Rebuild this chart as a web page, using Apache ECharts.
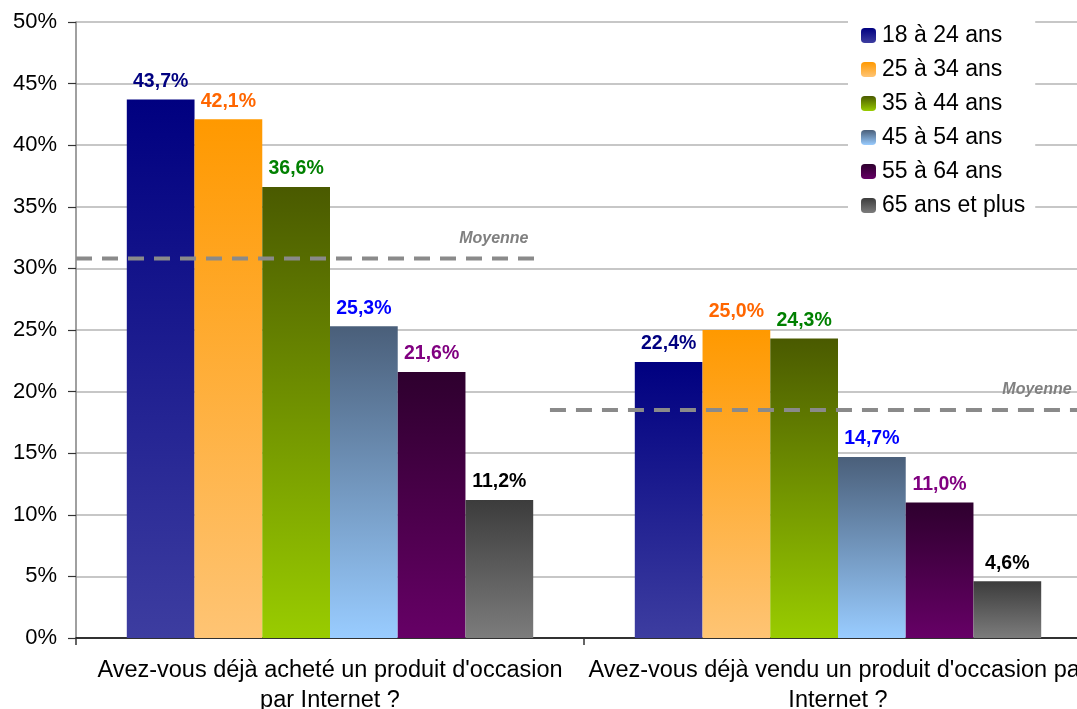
<!DOCTYPE html>
<html>
<head>
<meta charset="utf-8">
<script src="https://cdn.jsdelivr.net/npm/echarts@6/dist/echarts.min.js"></script>
<style>
  html, body { margin: 0; padding: 0; background: #fff; }
  #chart { width: 1077px; height: 709px; }
</style>
</head>
<body>
<div id="chart"></div>
<script>
// Questions (x categories)
var categories = [
  "Avez-vous déjà acheté un produit d'occasion\npar Internet ?",
  "Avez-vous déjà vendu un produit d'occasion par\nInternet ?"
];

// Age groups
var ageGroups = ['18 à 24 ans', '25 à 34 ans', '35 à 44 ans', '45 à 54 ans', '55 à 64 ans', '65 ans et plus'];

// Share of respondents (%) per age group, one value per question
var v18_24 = [43.7, 22.4];
var v25_34 = [42.1, 25.0];
var v35_44 = [36.6, 24.3];
var v45_54 = [25.3, 14.7];
var v55_64 = [21.6, 11.0];
var v65plus = [11.2, 4.6];
var groupValues = [v18_24, v25_34, v35_44, v45_54, v55_64, v65plus];

// Average per question, and the span of each average line on a 0..2 category scale
var averages = [30.8, 18.5];
var averageSpans = [[0, 0.913], [0.933, 2]];
var averageLabel = 'Moyenne';

// Y ticks
var yMin = 0, yMax = 50, yStep = 5;

var FONT = "'Liberation Sans', Arial, sans-serif";

// bar gradient (top -> bottom) and value label colour per age group
var gradients = [
  ['#000080', '#3d3da0'],
  ['#ff9900', '#fec474'],
  ['#4a5a00', '#99cc00'],
  ['#4a5f7a', '#99ccff'],
  ['#2e002e', '#660066'],
  ['#3c3c3c', '#7c7c7c']
];
var labelColors = ['#000080', '#ff6600', '#008000', '#0000ff', '#800080', '#000000'];

function fmt(v) { return v.toFixed(1).replace('.', ',') + '%'; }

var series = ageGroups.map(function (name, i) {
  return {
    name: name,
    type: 'bar',
    xAxisIndex: 0,
    yAxisIndex: 0,
    barGap: '0%',
    barCategoryGap: '20%',
    data: groupValues[i],
    itemStyle: {
      color: {
        type: 'linear', x: 0, y: 0, x2: 0, y2: 1,
        colorStops: [
          { offset: 0, color: gradients[i][0] },
          { offset: 1, color: gradients[i][1] }
        ]
      }
    },
    label: {
      show: true,
      position: 'top',
      distance: 8,
      formatter: function (p) { return fmt(p.value); },
      color: labelColors[i],
      fontFamily: FONT,
      fontWeight: 'bold',
      fontSize: 19.5
    },
    z: 2
  };
});

// dashed average lines, labelled at their right end
var labelOffsets = [[-46, 0], [-55, 0]];
averages.forEach(function (avg, k) {
  series.push({
    name: averageLabel + k,
    type: 'line',
    xAxisIndex: 1,
    yAxisIndex: 0,
    symbol: 'circle',
    symbolSize: 0,
    showSymbol: true,
    silent: true,
    z: 5,
    lineStyle: { color: '#8a8a8a', width: 4, type: [16, 10] },
    data: [
      { value: [averageSpans[k][0], avg], label: { show: false } },
      {
        value: [averageSpans[k][1], avg],
        label: {
          show: true,
          position: 'top',
          distance: 12,
          offset: labelOffsets[k],
          formatter: averageLabel,
          color: '#808080',
          fontFamily: FONT,
          fontWeight: 'bold',
          fontStyle: 'italic',
          fontSize: 16
        }
      }
    ]
  });
});

var chart = echarts.init(document.getElementById('chart'), null, { renderer: 'canvas' });
chart.setOption({
  animation: false,
  backgroundColor: '#ffffff',
  grid: { left: 76, top: 22, width: 1016, height: 616, containLabel: false, outerBoundsMode: 'none' },
  legend: {
    data: ageGroups,
    orient: 'vertical',
    left: 848,
    top: 14,
    backgroundColor: '#ffffff',
    padding: [10, 10, 10, 13],
    itemWidth: 15,
    itemHeight: 15,
    itemGap: 11,
    selectedMode: false,
    textStyle: { fontFamily: FONT, fontSize: 23, color: '#000', lineHeight: 20, padding: [0, 0, 0, 1] },
    z: 10
  },
  xAxis: [
    {
      type: 'category',
      data: categories,
      axisLine: { show: true, lineStyle: { color: '#000', width: 1.5 } },
      axisTick: { show: true, length: 7, lineStyle: { color: '#333', width: 1.5 } },
      axisLabel: {
        interval: 0,
        margin: 18,
        fontFamily: FONT,
        fontSize: 23.5,
        color: '#000',
        lineHeight: 30
      },
      splitLine: { show: false }
    },
    {
      type: 'value',
      min: 0,
      max: 2,
      show: false
    }
  ],
  yAxis: {
    type: 'value',
    min: yMin,
    max: yMax,
    interval: yStep,
    axisLine: { show: true, lineStyle: { color: '#808080', width: 1.5 } },
    axisTick: { show: true, inside: false, length: 8, lineStyle: { color: '#333', width: 1.2 } },
    axisLabel: {
      margin: 19,
      formatter: '{value}%',
      fontFamily: FONT,
      fontSize: 22,
      color: '#000'
    },
    splitLine: { show: true, lineStyle: { color: '#b4b4b4', width: 1.5 } }
  },
  series: series
});
</script>
</body>
</html>
